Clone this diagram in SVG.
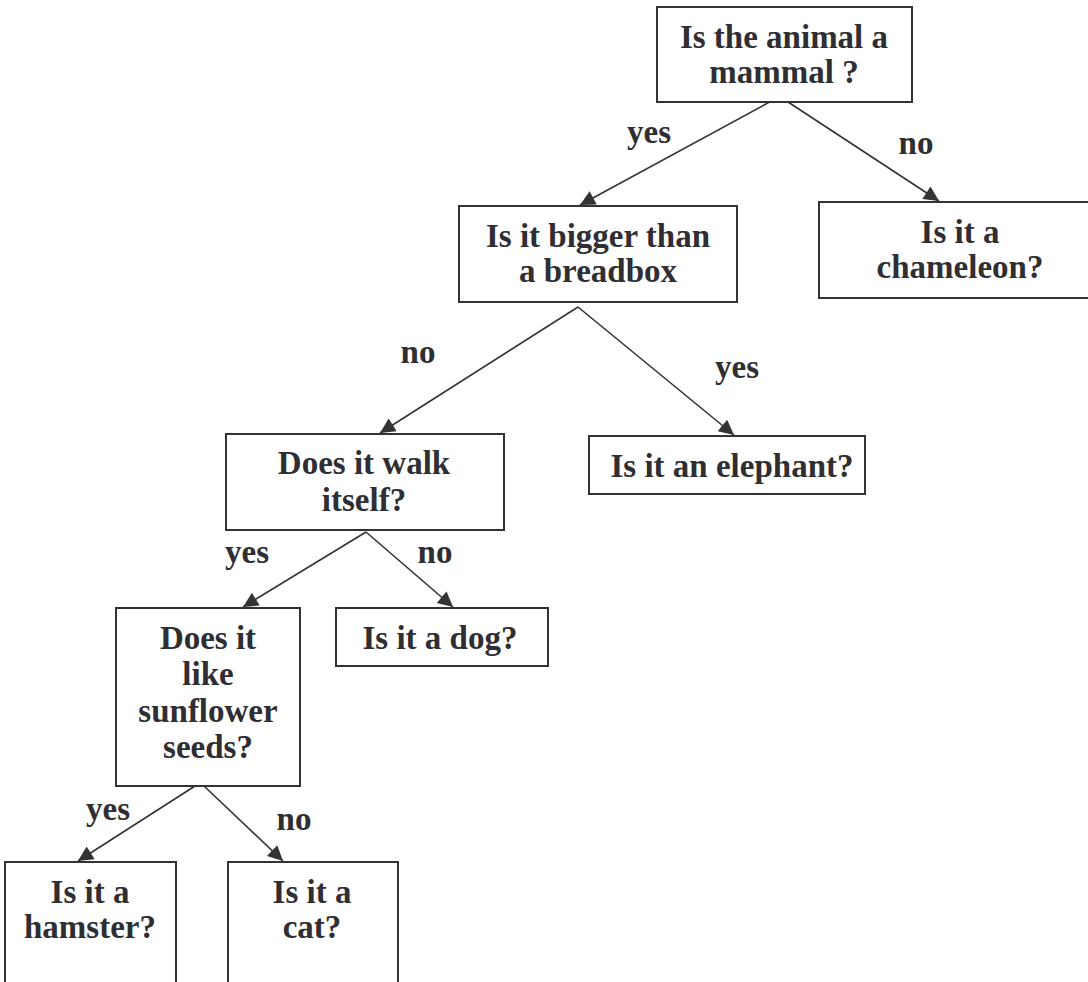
<svg xmlns="http://www.w3.org/2000/svg" width="1088" height="982" viewBox="0 0 1088 982">
<style>
.box{fill:#fff;stroke:#333;stroke-width:2}
.t{font-family:"Liberation Serif","Times New Roman",serif;font-weight:bold;font-size:33px;fill:#2e2e33;text-anchor:middle}
.c{stroke:#333;stroke-width:1.6;fill:none;marker-end:url(#ah)}
</style>
<defs>
<marker id="ah" viewBox="0 0 10 10" refX="10" refY="5" markerWidth="17" markerHeight="15" markerUnits="userSpaceOnUse" orient="auto">
<path d="M0,0 L10,5 L0,10 Z" fill="#333"/>
</marker>
</defs>
<rect width="1088" height="982" fill="#fff"/>
<g id="connectors">
<line class="c" x1="777" y1="98" x2="580" y2="205"/>
<line class="c" x1="785" y1="100" x2="939" y2="201"/>
<line class="c" x1="578" y1="307" x2="380" y2="433"/>
<line class="c" x1="578" y1="307" x2="734" y2="435"/>
<line class="c" x1="366" y1="532" x2="243" y2="607"/>
<line class="c" x1="366" y1="532" x2="453" y2="607"/>
<line class="c" x1="195" y1="786" x2="78" y2="861"/>
<line class="c" x1="204" y1="786" x2="283" y2="861"/>
</g>
<g id="labels">
<text class="t" x="649" y="143">yes</text>
<text class="t" x="916" y="154">no</text>
<text class="t" x="418" y="363">no</text>
<text class="t" x="737" y="378">yes</text>
<text class="t" x="247" y="563">yes</text>
<text class="t" x="435" y="563">no</text>
<text class="t" x="108" y="820">yes</text>
<text class="t" x="294" y="830">no</text>
</g>
<g id="mammal">
<rect class="box" x="657" y="7" width="255" height="95"/>
<text class="t" x="784" y="48">Is the animal a</text>
<text class="t" x="784" y="83">mammal ?</text>
</g>
<g id="breadbox">
<rect class="box" x="459" y="206" width="278" height="96"/>
<text class="t" x="598" y="247">Is it bigger than</text>
<text class="t" x="598" y="282">a breadbox</text>
</g>
<g id="chameleon">
<rect class="box" x="819" y="202" width="282" height="96"/>
<text class="t" x="960" y="243">Is it a</text>
<text class="t" x="960" y="278">chameleon?</text>
</g>
<g id="elephant">
<rect class="box" x="589" y="436" width="276" height="58"/>
<text class="t" x="732" y="477">Is it an elephant?</text>
</g>
<g id="walk">
<rect class="box" x="226" y="434" width="278" height="96"/>
<text class="t" x="364" y="474">Does it walk</text>
<text class="t" x="364" y="511">itself?</text>
</g>
<g id="dog">
<rect class="box" x="336" y="608" width="212" height="58"/>
<text class="t" x="440" y="649">Is it a dog?</text>
</g>
<g id="sunflower">
<rect class="box" x="116" y="608" width="184" height="178"/>
<text class="t" x="208" y="649">Does it</text>
<text class="t" x="208" y="685">like</text>
<text class="t" x="208" y="722">sunflower</text>
<text class="t" x="208" y="758">seeds?</text>
</g>
<g id="hamster">
<rect class="box" x="5" y="862" width="171" height="140"/>
<text class="t" x="90" y="903">Is it a</text>
<text class="t" x="90" y="938">hamster?</text>
</g>
<g id="cat">
<rect class="box" x="228" y="862" width="170" height="140"/>
<text class="t" x="312" y="903">Is it a</text>
<text class="t" x="312" y="938">cat?</text>
</g>
</svg>
